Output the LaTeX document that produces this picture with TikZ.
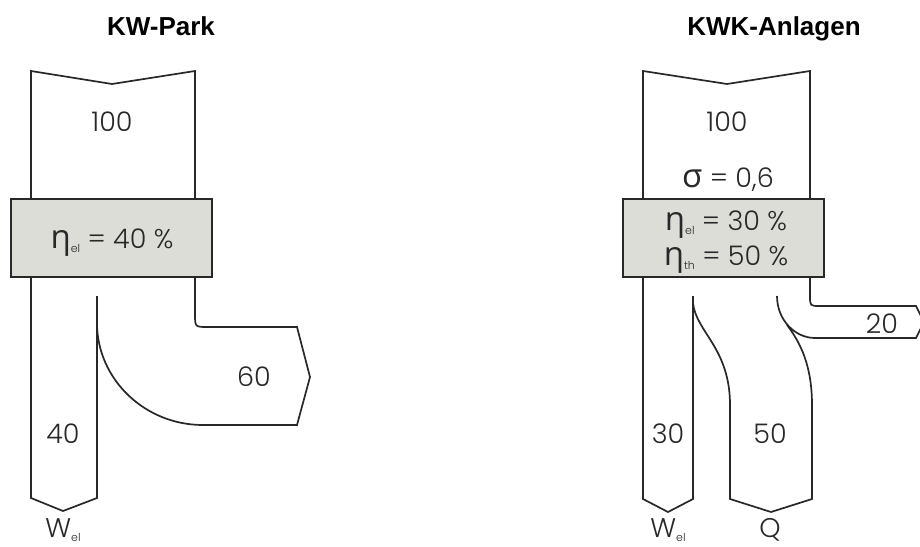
\documentclass[tikz,border=0pt]{standalone}
\usepackage{fontspec}
\setmainfont{Poppins}[UprightFont={* Light}]
\newfontfamily\titlefont{Liberation Sans}
\newfontfamily\grk{Open Sans}
\newcommand\lowsub[1]{\raisebox{-0.3ex}{\fontsize{11}{11}\selectfont #1}}
\newcommand\gl[1]{{\grk\fontsize{33}{36}\selectfont #1}}
\definecolor{boxgray}{RGB}{221,221,216}
\definecolor{ink}{RGB}{40,40,40}
\begin{document}
\begin{tikzpicture}[x=1pt,y=-1pt,
  flow/.style={line width=1.7pt, line join=miter, draw=ink},
  lbl/.style={font=\fontsize{27}{30}\selectfont, text=ink, inner sep=0pt, anchor=base},
  ttl/.style={font=\titlefont\bfseries\fontsize{26}{29}\selectfont, inner sep=0pt, anchor=base},
  effbox/.style={line width=1.7pt, draw=ink, fill=boxgray}]
\useasboundingbox (0,0) rectangle (920,546);

% ---------- left: KW-Park ----------
\node[ttl] (t1) at (161,35) {KW-Park};
\draw[flow] (31,199) -- (31,71) -- (112,84) -- (195,71) -- (195,199);
\draw[effbox] (11,199) rectangle (212,277);
\draw[flow] (31,277) -- (31,498) -- (63,511) -- (97,498) -- (97,296);
\draw[flow] (195,277) -- (195,314) .. controls (195,327) .. (208,327)
  -- (297,327) -- (310,377) -- (297,425) -- (203,425)
  .. controls (144.5,425) and (97,379) .. (97,323);
\node[lbl] (in1) at (112,131) {100};
\node[lbl] (eta1) at (112,248) {\gl{η}\lowsub{el} = 40 \%};
\node[lbl] (w1) at (63,443) {40};
\node[lbl] (l1) at (254,386) {60};
\node[lbl] (wel1) at (63,537) {W\lowsub{el}};

% ---------- right: KWK-Anlagen ----------
\node[ttl] (t2) at (774,35) {KWK-Anlagen};
\draw[flow] (643,199) -- (643,71) -- (727,84) -- (810,71) -- (810,199);
\draw[effbox] (623,199) rectangle (824,277);
\draw[flow] (643,277) -- (643,499) -- (668,512) -- (693,499) -- (693,296);
% Q stream
\draw[flow] (693,303) .. controls (696,332) and (730,348) .. (730,405)
  -- (730,499) -- (771,512) -- (812,499) -- (812,405)
  .. controls (812,365) and (800,342) .. (787,325);
% loss stream 20
\draw[flow] (810,277) -- (810,296) .. controls (810,306) .. (820,306)
  -- (916,306) -- (924,322) -- (916,338) -- (815,338)
  .. controls (795,338) and (777,320) .. (777,296);
\node[lbl] (in2) at (727,131) {100};
\node[lbl] (sig) at (728,187) {\gl{σ} = 0,6};
\node[lbl] (eta2) at (726,230) {\gl{η}\lowsub{el} = 30 \%};
\node[lbl] (eta3) at (726,265) {\gl{η}\lowsub{th} = 50 \%};
\node[lbl] (w2) at (668,443) {30};
\node[lbl] (q2) at (770,443) {50};
\node[lbl] (l2) at (882,333) {20};
\node[lbl] (wel2) at (668,537) {W\lowsub{el}};
\node[lbl] (qq) at (770,537) {Q};
\end{tikzpicture}
\end{document}
